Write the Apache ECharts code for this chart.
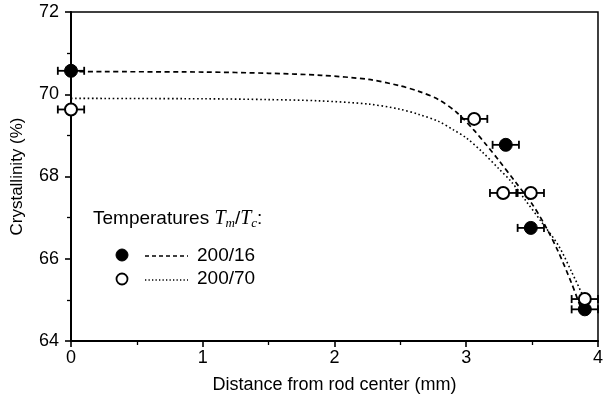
<!DOCTYPE html>
<html>
<head>
<meta charset="utf-8">
<script src="https://cdn.jsdelivr.net/npm/echarts@6/dist/echarts.min.js"></script>
<style>
  html, body { margin: 0; padding: 0; background: #fff; }
  #chart { width: 606px; height: 400px; }
</style>
</head>
<body>
<div id="chart"></div>
<script>
// measured points, 200/16 (filled) and 200/70 (open)
const filledX = [0, 3.30, 3.49, 3.90];
const filledY = [70.57, 68.77, 66.75, 64.77];
const filledErr = [0.1, 0.1, 0.1, 0.1];

const openX = [0, 3.06, 3.28, 3.49, 3.90];
const openY = [69.63, 69.40, 67.60, 67.60, 65.02];
const openErr = [0.1, 0.1, 0.1, 0.1, 0.1];

// fitted curves
const fit16X = [0, 1.0, 1.5, 1.9, 2.26, 2.49, 2.64, 2.79, 2.93, 3.06, 3.15, 3.25, 3.37, 3.5, 3.6, 3.7, 3.8, 3.87];
const fit16Y = [70.55, 70.54, 70.51, 70.46, 70.36, 70.21, 70.07, 69.87, 69.55, 69.12, 68.78, 68.38, 67.88, 67.33, 66.8, 66.16, 65.4, 64.8];

const fit70X = [0, 1.0, 1.5, 1.88, 2.26, 2.49, 2.64, 2.79, 2.9, 3.0, 3.12, 3.25, 3.34, 3.45, 3.57, 3.7, 3.8, 3.9];
const fit70Y = [69.9, 69.89, 69.87, 69.84, 69.76, 69.64, 69.51, 69.34, 69.14, 68.94, 68.6, 68.18, 67.88, 67.42, 66.9, 66.32, 65.68, 65.0];

const xTicks = [0, 1, 2, 3, 4];
const yTicks = [64, 66, 68, 70, 72];

const FONT = 'Liberation Sans, Arial, sans-serif';

function pairs(xs, ys) {
  return xs.map((x, i) => [x, ys[i]]);
}

function errorRows(xs, ys, errs) {
  return xs.map((x, i) => [x, ys[i], errs[i]]);
}

function renderErrorBar(params, api) {
  const x = api.value(0);
  const y = api.value(1);
  const e = api.value(2);
  const a = api.coord([x - e, y]);
  const b = api.coord([x + e, y]);
  const cap = 4;
  const style = { stroke: '#000', lineWidth: 1.8 };
  return {
    type: 'group',
    children: [
      { type: 'line', shape: { x1: a[0], y1: a[1], x2: b[0], y2: b[1] }, style },
      { type: 'line', shape: { x1: a[0], y1: a[1] - cap, x2: a[0], y2: a[1] + cap }, style },
      { type: 'line', shape: { x1: b[0], y1: b[1] - cap, x2: b[0], y2: b[1] + cap }, style },
    ],
  };
}

const chart = echarts.init(document.getElementById('chart'));

chart.setOption({
  animation: false,
  backgroundColor: '#fff',
  grid: {
    left: 71, right: 8, top: 12, bottom: 59,
    show: true, borderColor: '#000', borderWidth: 1.5, backgroundColor: 'transparent',
  },
  xAxis: {
    type: 'value',
    min: xTicks[0], max: xTicks[xTicks.length - 1], interval: 1,
    name: 'Distance from rod center (mm)',
    nameLocation: 'middle', nameGap: 35,
    nameTextStyle: { fontFamily: FONT, fontSize: 18, color: '#000' },
    axisLine: { lineStyle: { color: '#000', width: 2 } },
    axisTick: { show: true, length: 6, lineStyle: { color: '#000', width: 1.6 } },
    minorTick: { show: true, splitNumber: 2, length: 4, lineStyle: { color: '#000', width: 1.3 } },
    axisLabel: { fontFamily: FONT, fontSize: 18, color: '#000', margin: 8 },
    splitLine: { show: false },
  },
  yAxis: {
    type: 'value',
    min: yTicks[0], max: yTicks[yTicks.length - 1], interval: 2,
    name: 'Crystallinity (%)',
    nameLocation: 'middle', nameGap: 45,
    nameTextStyle: { fontFamily: FONT, fontSize: 17, color: '#000' },
    axisLine: { lineStyle: { color: '#000', width: 2 } },
    axisTick: { show: true, length: 6, lineStyle: { color: '#000', width: 1.6 } },
    minorTick: { show: true, splitNumber: 2, length: 4, lineStyle: { color: '#000', width: 1.3 } },
    axisLabel: { fontFamily: FONT, fontSize: 18, color: '#000', margin: 12 },
    splitLine: { show: false },
  },
  series: [
    {
      name: '200/16 fit', type: 'line', smooth: 0.3, showSymbol: false, z: 2,
      data: pairs(fit16X, fit16Y),
      lineStyle: { color: '#000', width: 1.7, type: [5, 3.5] },
    },
    {
      name: '200/70 fit', type: 'line', smooth: 0.3, showSymbol: false, z: 2,
      data: pairs(fit70X, fit70Y),
      lineStyle: { color: '#000', width: 1.6, type: [1.6, 2.6] },
    },
    {
      name: '200/16 err', type: 'custom', clip: false, z: 3,
      renderItem: renderErrorBar,
      data: errorRows(filledX, filledY, filledErr),
    },
    {
      name: '200/70 err', type: 'custom', clip: false, z: 3,
      renderItem: renderErrorBar,
      data: errorRows(openX, openY, openErr),
    },
    {
      name: '200/16', type: 'scatter', clip: false, z: 4,
      symbol: 'circle', symbolSize: 13,
      itemStyle: { color: '#000', borderColor: '#000', borderWidth: 1, opacity: 1 },
      data: pairs(filledX, filledY),
    },
    {
      name: '200/70', type: 'scatter', clip: false, z: 4,
      symbol: 'circle', symbolSize: 12,
      itemStyle: { color: '#fff', borderColor: '#000', borderWidth: 2, opacity: 1 },
      data: pairs(openX, openY),
    },
  ],
  graphic: [
    {
      type: 'text', left: 93, top: 209,
      style: {
        text: '{a|Temperatures }{i|T}{s|m}{a|/}{i|T}{s|c}{a|:}',
        rich: {
          a: { fontFamily: FONT, fontSize: 19, color: '#000' },
          i: { fontFamily: 'Liberation Serif, serif', fontStyle: 'italic', fontSize: 20, color: '#000' },
          s: { fontFamily: 'Liberation Serif, serif', fontStyle: 'italic', fontSize: 13, color: '#000', padding: [10, 0, 0, 0] },
        },
      },
    },
    { type: 'circle', shape: { cx: 122, cy: 255, r: 6 }, style: { fill: '#000', stroke: '#000' } },
    { type: 'line', shape: { x1: 145, y1: 256, x2: 188, y2: 256 }, style: { stroke: '#000', lineWidth: 1.4, lineDash: [4, 3] } },
    { type: 'text', left: 197, top: 246, style: { text: '200/16', fontFamily: FONT, fontSize: 19, fill: '#000' } },
    { type: 'circle', shape: { cx: 122, cy: 279, r: 5.5 }, style: { fill: '#fff', stroke: '#000', lineWidth: 1.8 } },
    { type: 'line', shape: { x1: 145, y1: 280, x2: 188, y2: 280 }, style: { stroke: '#000', lineWidth: 1.3, lineDash: [1.3, 2.2] } },
    { type: 'text', left: 197, top: 269, style: { text: '200/70', fontFamily: FONT, fontSize: 19, fill: '#000' } },
  ],
});
</script>
</body>
</html>
